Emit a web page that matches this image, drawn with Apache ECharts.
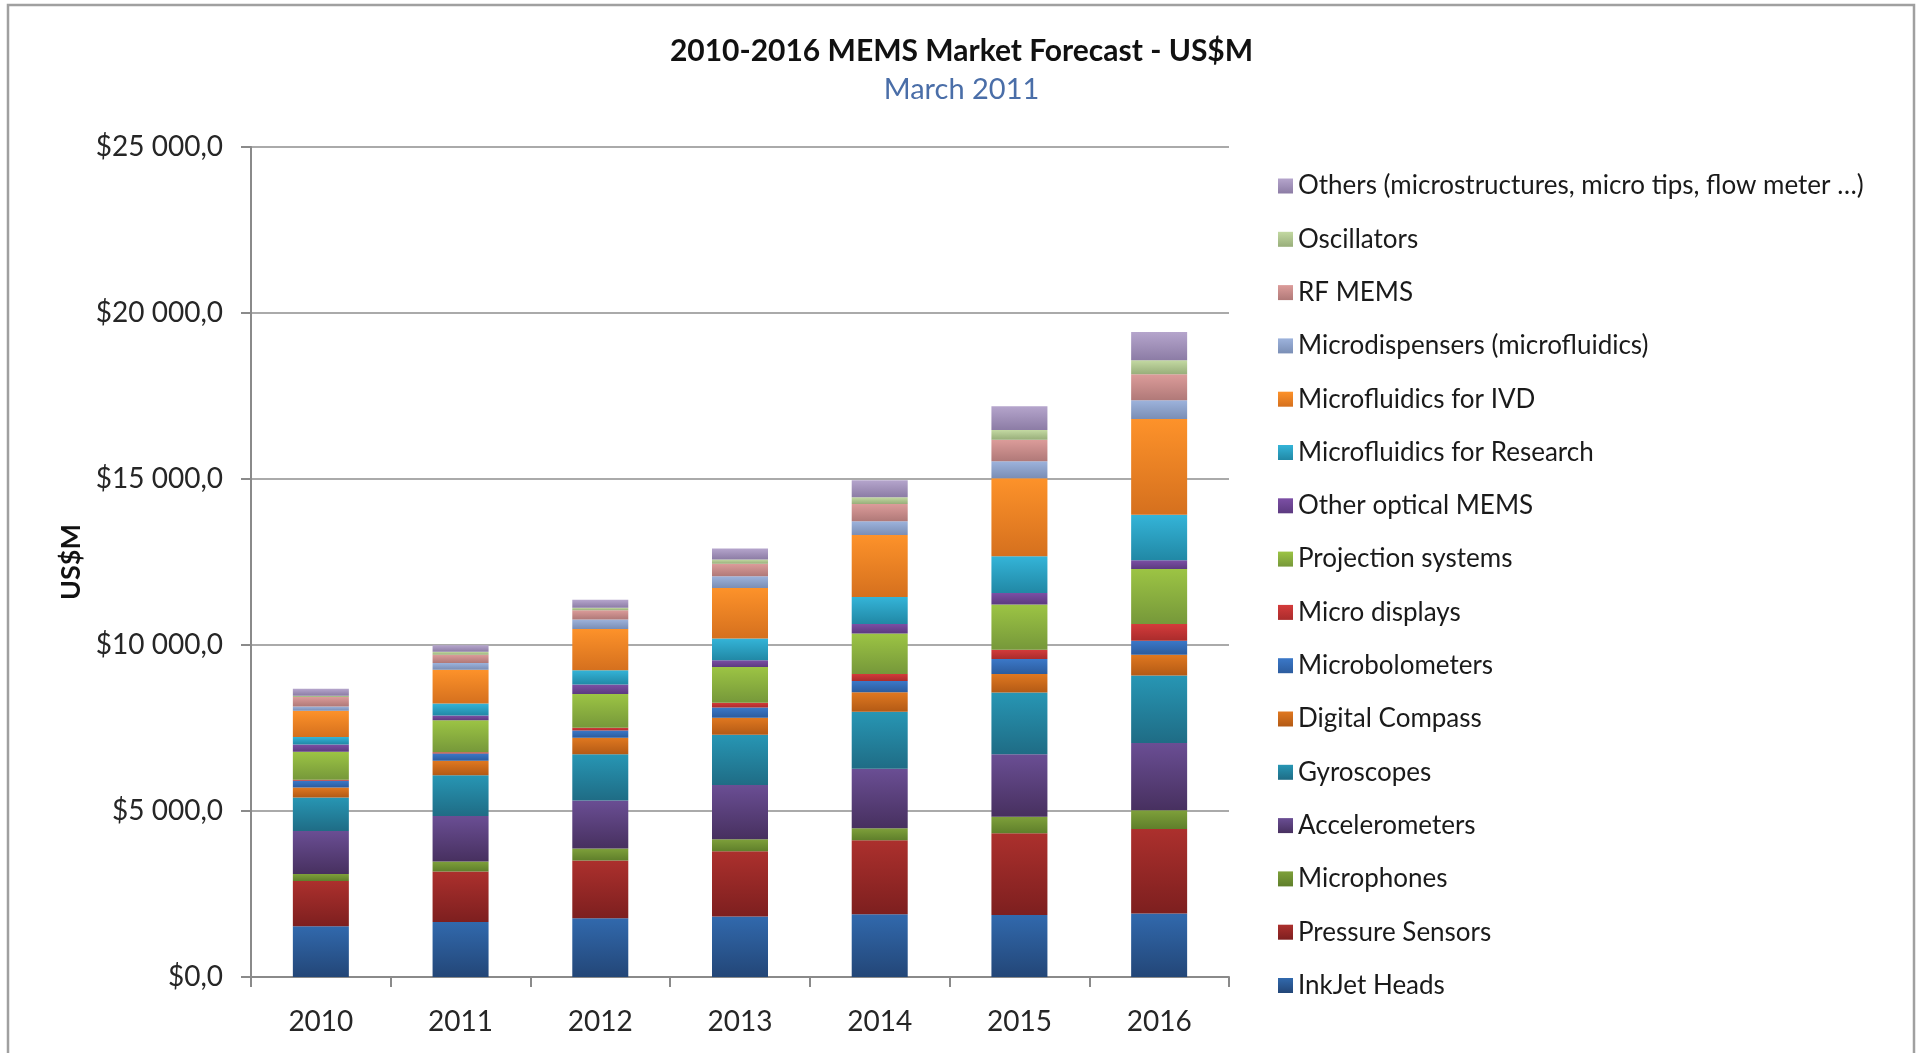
<!DOCTYPE html>
<html>
<head>
<meta charset="utf-8">
<script src="https://cdn.jsdelivr.net/npm/echarts@6/dist/echarts.min.js"></script>
<style>
html,body{margin:0;padding:0;background:#fff;}
#chart{width:1923px;height:1053px;}
</style>
</head>
<body>
<div id="chart"></div>
<script>
// ---- data (US$M) ----
const years = ['2010','2011','2012','2013','2014','2015','2016'];
const yTicks = [0, 5000, 10000, 15000, 20000, 25000];

const inkjetHeads      = [1530, 1660, 1770, 1825, 1890, 1870, 1910];
const pressureSensors  = [1360, 1520, 1740, 1960, 2230, 2460, 2550];
const microphones      = [210, 300, 360, 365, 360, 500, 560];
const accelerometers   = [1300, 1370, 1450, 1630, 1790, 1880, 2030];
const gyroscopes       = [1010, 1230, 1390, 1520, 1720, 1860, 2030];
const digitalCompass   = [300, 430, 500, 510, 585, 560, 630];
const microbolometers  = [200, 220, 215, 305, 340, 450, 420];
const microDisplays    = [30, 40, 80, 145, 215, 280, 500];
const projection       = [845, 965, 1020, 1075, 1220, 1360, 1660];
const otherOptical     = [220, 140, 285, 205, 285, 350, 260];
const mfResearch       = [225, 365, 430, 655, 810, 1100, 1375];
const mfIVD            = [790, 1015, 1245, 1520, 1865, 2355, 2880];
const microdispensers  = [130, 205, 285, 355, 420, 510, 565];
const rfMems           = [285, 245, 280, 375, 515, 650, 785];
const oscillators      = [40, 90, 70, 130, 205, 290, 420];
const others           = [205, 195, 240, 330, 510, 720, 850];

const seriesNames = [
  'InkJet Heads','Pressure Sensors','Microphones','Accelerometers','Gyroscopes',
  'Digital Compass','Microbolometers','Micro displays','Projection systems',
  'Other optical MEMS','Microfluidics for Research','Microfluidics for IVD',
  'Microdispensers (microfluidics)','RF MEMS','Oscillators',
  'Others (microstructures, micro tips, flow meter …)'
];
const seriesData = [
  inkjetHeads, pressureSensors, microphones, accelerometers, gyroscopes,
  digitalCompass, microbolometers, microDisplays, projection, otherOptical,
  mfResearch, mfIVD, microdispensers, rfMems, oscillators, others
];
// [top colour, bottom colour]
const seriesColors = [
  ['#3169AD','#234677'], ['#AC302D','#7D1F1F'], ['#7EA03A','#5F7F2B'],
  ['#6A4E94','#47305F'], ['#2796B4','#1F6C85'], ['#E07820','#B35A15'],
  ['#3B78C8','#2C5C9E'], ['#D43B3B','#AA2C2C'], ['#9CC444','#76983A'],
  ['#7C4FA5','#5C3A80'], ['#34B4D8','#2188A5'], ['#FD922A','#D5701E'],
  ['#9DB3DC','#7A8EB5'], ['#DC9C9A','#B07978'], ['#C3D9A2','#98AE7A'],
  ['#B5A5CC','#8C7CA5']
];

const FONT = 'Lato, "Open Sans", sans-serif';
const chart = echarts.init(document.getElementById('chart'), null, {renderer: 'canvas'});

function fmtMoney(v) {
  return '$' + String(Math.round(v)).replace(/\B(?=(\d{3})+(?!\d))/g, ' ') + ',0';
}

const series = seriesNames.map((name, i) => ({
  name: name,
  type: 'bar',
  stack: 'total',
  barWidth: 56,
  data: seriesData[i],
  itemStyle: {
    color: new echarts.graphic.LinearGradient(0, 0, 0, 1, [
      {offset: 0, color: seriesColors[i][0]},
      {offset: 1, color: seriesColors[i][1]}
    ])
  },
  emphasis: {disabled: true}
}));

chart.setOption({
  animation: false,
  backgroundColor: '#ffffff',
  graphic: [{
    type: 'rect',
    shape: {x: 8, y: 5, width: 1906, height: 1100},
    style: {fill: 'none', stroke: '#A0A0A0', lineWidth: 2.5},
    silent: true
  }],
  title: [
    {text: '2010-2016 MEMS Market Forecast - US$M', left: 'center', top: 31,
     textStyle: {fontFamily: FONT, fontWeight: 'bold', fontSize: 30, color: '#111'}},
    {text: 'March 2011', left: 'center', top: 70,
     textStyle: {fontFamily: FONT, fontWeight: 'normal', fontSize: 29, color: '#4A6EA8'}}
  ],
  legend: {
    orient: 'vertical',
    left: 1273,
    top: 168,
    itemWidth: 15,
    itemHeight: 15,
    itemGap: 27.3,
    icon: 'rect',
    data: seriesNames.slice().reverse(),
    textStyle: {fontFamily: FONT, fontSize: 26, color: '#1a1a1a', lineHeight: 26},
    selectedMode: false
  },
  grid: {left: 251, right: 694, top: 147, bottom: 76, containLabel: false},
  xAxis: {
    type: 'category',
    data: years,
    axisLine: {lineStyle: {color: '#8A8A8A', width: 2}},
    axisTick: {show: true, alignWithLabel: false, length: 10, lineStyle: {color: '#8A8A8A', width: 2}},
    axisLabel: {fontFamily: FONT, fontSize: 28, color: '#262626', margin: 31}
  },
  yAxis: {
    type: 'value',
    min: yTicks[0],
    max: yTicks[yTicks.length - 1],
    interval: 5000,
    name: 'US$M',
    nameLocation: 'middle',
    nameGap: 166,
    nameTextStyle: {fontFamily: FONT, fontWeight: 'bold', fontSize: 27, color: '#111'},
    axisLine: {show: true, lineStyle: {color: '#8A8A8A', width: 2}},
    axisTick: {show: true, length: 10, lineStyle: {color: '#8A8A8A', width: 2}},
    axisLabel: {fontFamily: FONT, fontSize: 28, color: '#262626', margin: 28, formatter: fmtMoney},
    splitLine: {show: true, lineStyle: {color: '#8E8E8E', width: 1.5}}
  },
  series: series
});
</script>
</body>
</html>
